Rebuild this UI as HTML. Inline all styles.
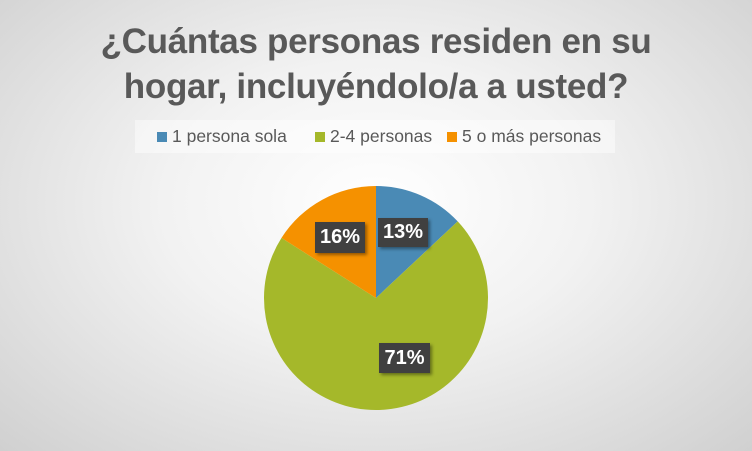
<!DOCTYPE html>
<html><head><meta charset="utf-8"><style>
body{margin:0;width:752px;height:451px;overflow:hidden;font-family:"Liberation Sans",sans-serif}
.bg{position:absolute;left:0;top:0;width:752px;height:451px;background:radial-gradient(ellipse at 50% 45%,#ffffff 0%,#f2f2f2 40%,#d0d0d0 100%)}
.title{position:absolute;left:0;top:19px;width:752px;text-align:center;font-size:35px;letter-spacing:-0.3px;font-weight:bold;color:#595959;line-height:45px}
.leg{position:absolute;left:135px;top:120px;width:480px;height:33px;background:rgba(255,255,255,0.45);font-size:17.5px;color:#595959;line-height:33px}
.leg span{position:absolute;top:0}
.sw{display:inline-block;width:10px;height:10px;margin-right:5px}
.lbl{position:absolute;background:#404040;color:#fff;font-weight:bold;font-size:20px;text-align:center;box-shadow:2px 2px 3px rgba(0,0,0,0.4)}
</style></head><body>
<div class="bg"></div>
<div class="title">¿Cuántas personas residen en su<br>hogar, incluyéndolo/a a usted?</div>
<div class="leg">
<span style="left:22px"><i class="sw" style="background:#4a8ab5"></i>1 persona sola</span>
<span style="left:180px"><i class="sw" style="background:#a5b82a"></i>2-4 personas</span>
<span style="left:312px"><i class="sw" style="background:#f59100"></i>5 o más personas</span>
</div>
<svg width="752" height="451" style="position:absolute;left:0;top:0">
<path d="M376,298 L376,186 A112,112 0 0,1 457.7,221.4 Z" fill="#4a8ab5"/>
<path d="M376,298 L457.7,221.4 A112,112 0 1,1 281.5,237.9 Z" fill="#a5b82a"/>
<path d="M376,298 L281.5,237.9 A112,112 0 0,1 376,186 Z" fill="#f59100"/>
</svg>
<div class="lbl" style="left:315px;top:222px;width:50px;height:31px;line-height:31px">16%</div>
<div class="lbl" style="left:378px;top:218px;width:50px;height:29px;line-height:29px">13%</div>
<div class="lbl" style="left:379px;top:343px;width:51px;height:30px;line-height:30px">71%</div>
</body></html>
